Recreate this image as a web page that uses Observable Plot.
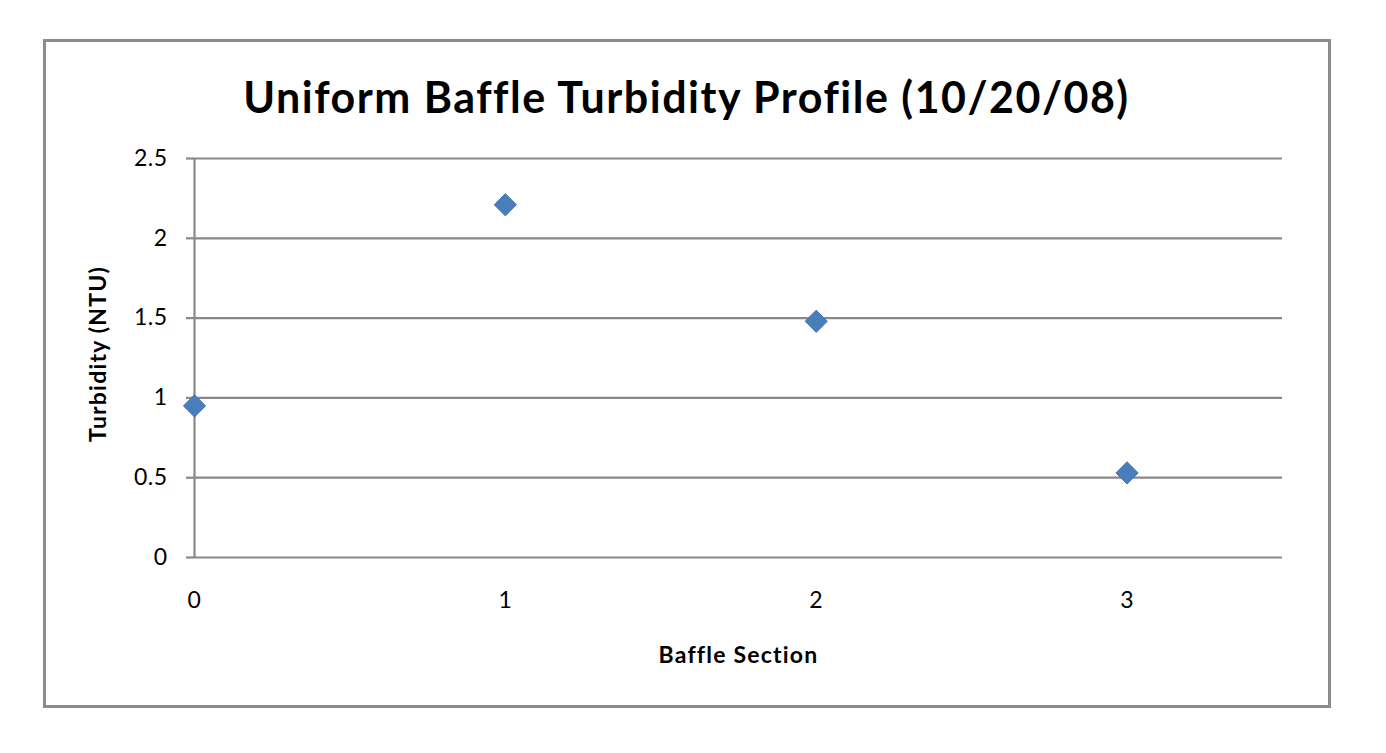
<!DOCTYPE html>
<html>
<head>
<meta charset="utf-8">
<script src="https://cdn.jsdelivr.net/npm/d3@7"></script>
<script src="https://cdn.jsdelivr.net/npm/@observablehq/plot@0.6"></script>
<style>
  html, body { margin: 0; padding: 0; background: #fff; }
  #wrap { position: relative; width: 1386px; height: 753px; overflow: hidden; font-family: Lato, "Open Sans", sans-serif; }
  #frame { position: absolute; left: 43px; top: 39px; width: 1282px; height: 663px; border: 3px solid #8c8c8c; }
  #title { position: absolute; left: 44px; width: 1285px; top: 69px; text-align: center; font-size: 43px; letter-spacing: 1.5px; font-weight: bold; color: #000; line-height: 56px; }
  #chart { position: absolute; left: 0; top: 0; }
  #chart svg text { letter-spacing: 0.5px; }
  #chart svg .lbl text { letter-spacing: 1.2px; }
</style>
</head>
<body>
<div id="wrap">
  <div id="frame"></div>
  <div id="title">Uniform Baffle Turbidity Profile (10/20/08)</div>
  <div id="chart"></div>
</div>
<script>
const sections = [0, 1, 2, 3];
const turbidity = [0.95, 2.21, 1.48, 0.53];
const xTicks = [0, 1, 2, 3];
const yTicks = [0, 0.5, 1, 1.5, 2, 2.5];
const yTickLabels = ["0", "0.5", "1", "1.5", "2", "2.5"];
const xLabel = "Baffle Section";
const yLabel = "Turbidity (NTU)";

const data = sections.map((s, i) => ({x: s, y: turbidity[i]}));
const gridColor = "#898989";

const chart = Plot.plot({
  width: 1386,
  height: 753,
  marginLeft: 194,
  marginRight: 104,
  marginTop: 158,
  marginBottom: 196,
  style: {background: "transparent", fontFamily: "Lato, 'Open Sans', sans-serif", color: "#000"},
  x: {domain: [0, 3.5]},
  y: {domain: [0, 2.5]},
  marks: [
    Plot.gridY(yTicks, {stroke: gridColor, strokeOpacity: 1, strokeWidth: 2.2}),
    Plot.ruleX([0], {stroke: gridColor, strokeWidth: 2.2}),
    Plot.axisY(yTicks, {
      tickSize: 8, tickPadding: 19, stroke: gridColor, strokeWidth: 2.2, strokeOpacity: 1,
      fontSize: 23, fill: "#000", label: null,
      tickFormat: (d) => yTickLabels[yTicks.indexOf(d)]
    }),
    Plot.axisX(xTicks, {
      tickSize: 0, tickPadding: 34, fontSize: 23, fill: "#000", label: null,
      tickFormat: (d) => String(d)
    }),
    Plot.dot(data, {x: "x", y: "y", symbol: "diamond2", r: 10, fill: "#4a7ebb", stroke: "#3f73b2", strokeWidth: 1}),
    Plot.text([yLabel], {className: "lbl", frameAnchor: "left", dx: -96, dy: -4, rotate: -90, text: (d) => d, fontSize: 23, fontWeight: "bold", fill: "#000", textAnchor: "middle", lineAnchor: "middle"}),
    Plot.text([xLabel], {className: "lbl", frameAnchor: "bottom", dy: 98, text: (d) => d, fontSize: 23, fontWeight: "bold", fill: "#000", textAnchor: "middle", lineAnchor: "middle"})
  ]
});
document.getElementById("chart").appendChild(chart);
</script>
</body>
</html>
